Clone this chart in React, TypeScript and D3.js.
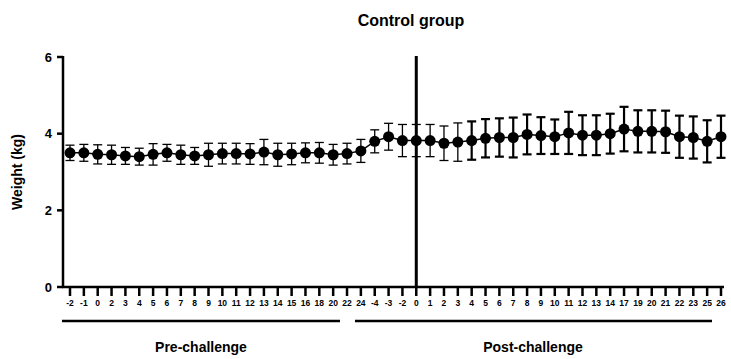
import React from "react";
import * as d3 from "d3";

const preLabels = ["-2","-1","0","2","3","4","5","6","7","8","9","10","11","12","13","14","15","16","18","20","22","24"];
const postLabels = ["-4","-3","-2","0","1","2","3","4","5","6","7","8","9","10","11","12","13","14","17","19","20","21","22","23","25","26"];
const preMeans = [3.5,3.5,3.46,3.45,3.42,3.4,3.46,3.5,3.45,3.42,3.45,3.48,3.48,3.47,3.52,3.45,3.47,3.5,3.5,3.45,3.48,3.55];
const preSD = [0.2,0.22,0.25,0.25,0.22,0.22,0.28,0.22,0.25,0.22,0.3,0.27,0.27,0.27,0.33,0.3,0.28,0.26,0.27,0.27,0.27,0.3];
const postMeans = [3.8,3.92,3.82,3.82,3.82,3.75,3.78,3.82,3.88,3.9,3.9,3.98,3.95,3.92,4.02,3.96,3.96,4.0,4.12,4.06,4.06,4.05,3.92,3.9,3.8,3.92];
const postSD = [0.3,0.35,0.42,0.42,0.42,0.45,0.5,0.5,0.5,0.5,0.52,0.52,0.48,0.45,0.55,0.52,0.52,0.52,0.58,0.55,0.55,0.55,0.55,0.55,0.55,0.55];
const yTicks = [0, 2, 4, 6];

export default function App() {
  const W = 731, H = 359;
  const labels = [...preLabels, ...postLabels];
  const means = [...preMeans, ...postMeans];
  const sds = [...preSD, ...postSD];
  const idx = labels.map((_, i) => i);
  const x = d3.scaleLinear().domain([0, labels.length - 1]).range([70, 721]);
  const y = d3.scaleLinear().domain([0, 6]).range([287, 57]);
  const line = d3.line<number>().x((i) => x(i)).y((i) => y(means[i]));
  const font = "'Liberation Sans', Arial, sans-serif";
  const splitX = x(preLabels.length + 3);
  return (
    <svg width={W} height={H} style={{ position: "absolute", left: 0, top: 0 }} fontFamily={font}>
      <text x={411} y={26} textAnchor="middle" fontSize={16} fontWeight="bold">Control group</text>
      {/* y axis */}
      <line x1={63} x2={63} y1={56} y2={288} stroke="#000" strokeWidth={2.5} />
      {yTicks.map((t) => (
        <g key={t}>
          <line x1={57} x2={63} y1={y(t)} y2={y(t)} stroke="#000" strokeWidth={2.5} />
          <text x={52} y={y(t)} dy="0.35em" textAnchor="end" fontSize={13} fontWeight="bold">{t}</text>
        </g>
      ))}
      <text transform={`translate(22,172) rotate(-90)`} textAnchor="middle" fontSize={14} fontWeight="bold">Weight (kg)</text>
      {/* x axis */}
      <line x1={62} x2={724} y1={287} y2={287} stroke="#000" strokeWidth={2.5} />
      {idx.map((i) => (
        <g key={i}>
          <line x1={x(i)} x2={x(i)} y1={287} y2={296} stroke="#000" strokeWidth={2.5} />
          <text x={x(i)} y={306} textAnchor="middle" fontSize={8.5} fontWeight="bold">{labels[i]}</text>
        </g>
      ))}
      <line x1={splitX} x2={splitX} y1={56} y2={287} stroke="#000" strokeWidth={3} />
      {/* error bars */}
      {idx.map((i) => {
        const lo = y(means[i] - sds[i]);
        const hi = y(means[i] + sds[i]);
        const sw = i < preLabels.length + 7 ? 1.3 : 2.2;
        return (
          <g key={"e" + i} stroke="#000" strokeWidth={sw}>
            <line x1={x(i)} x2={x(i)} y1={lo} y2={hi} />
            <line x1={x(i) - 4.5} x2={x(i) + 4.5} y1={lo} y2={lo} />
            <line x1={x(i) - 4.5} x2={x(i) + 4.5} y1={hi} y2={hi} />
          </g>
        );
      })}
      <path d={line(idx) || ""} fill="none" stroke="#000" strokeWidth={1.5} />
      {idx.map((i) => (
        <circle key={"c" + i} cx={x(i)} cy={y(means[i])} r={5.5} fill="#000" />
      ))}
      {/* group bars */}
      <line x1={62} x2={340} y1={321} y2={321} stroke="#000" strokeWidth={2.5} />
      <line x1={355} x2={712} y1={321} y2={321} stroke="#000" strokeWidth={2.5} />
      <text x={201} y={352} textAnchor="middle" fontSize={14} fontWeight="bold">Pre-challenge</text>
      <text x={533} y={352} textAnchor="middle" fontSize={14} fontWeight="bold">Post-challenge</text>
    </svg>
  );
}
